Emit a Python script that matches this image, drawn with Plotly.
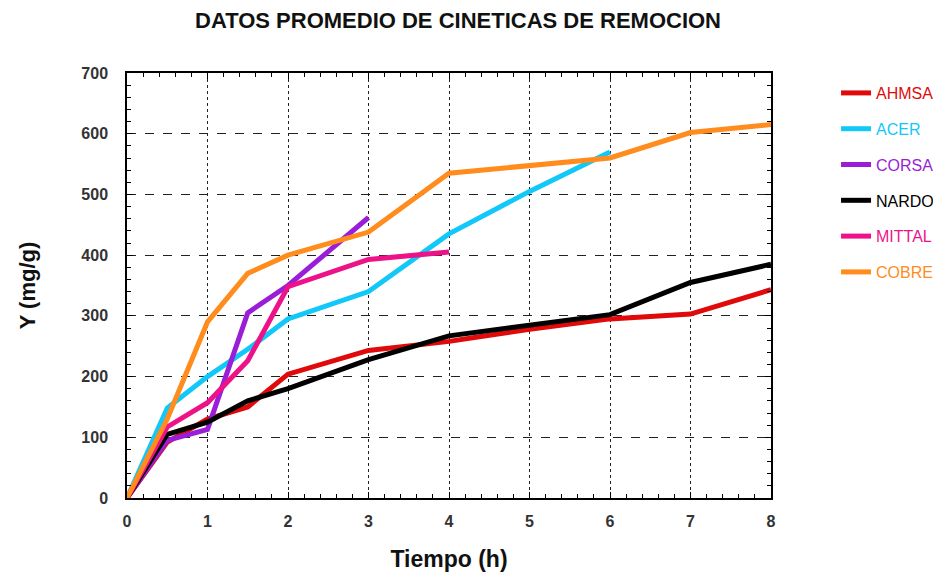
import plotly.graph_objects as go

# tiempo (h) y capacidad Y (mg/g) por muestra
t_largo = [0, 0.5, 1, 1.5, 2, 3, 4, 5, 6, 7, 8]
t_acer = [0, 0.5, 1, 1.5, 2, 3, 4, 5, 6]
t_corsa = [0, 0.5, 1, 1.5, 2, 3]
t_mittal = [0, 0.5, 1, 1.5, 2, 3, 4]

ahmsa = [0, 92, 130, 150, 204, 243, 258, 278, 295, 303, 343]
acer = [0, 148, 200, 245, 295, 340, 435, 505, 570]
corsa = [0, 95, 113, 305, 350, 462]
nardo = [0, 105, 125, 160, 180, 228, 267, 285, 302, 355, 385]
mittal = [0, 117, 157, 226, 348, 393, 405]
cobre = [0, 130, 290, 370, 400, 438, 535, 548, 560, 602, 615]

series = [
    ("AHMSA", t_largo, ahmsa, "#e00a0a"),
    ("ACER", t_acer, acer, "#12c8f8"),
    ("CORSA", t_corsa, corsa, "#9a1ed8"),
    ("NARDO", t_largo, nardo, "#000000"),
    ("MITTAL", t_mittal, mittal, "#ee1289"),
    ("COBRE", t_largo, cobre, "#ff8c1c"),
]

fig = go.Figure()
for i, (name, x, y, color) in enumerate(series):
    fig.add_trace(go.Scatter(
        x=x, y=y, mode="lines",
        name="<span style='color:%s'>%s</span>" % (color, name),
        legendgroup=str(i),
        line=dict(color=color, width=5),
    ))

fam = "Liberation Sans, Arial"
axis_font = dict(family=fam, size=16, color="#333333", weight="bold")
title_font = dict(family=fam, size=23, color="#111111", weight="bold")

# la pagina deja 8px de margen en body, por eso 933x570
fig.update_layout(
    width=933, height=570,
    paper_bgcolor="white", plot_bgcolor="white",
    margin=dict(l=119, r=170, t=65, b=80),
    title=dict(text="DATOS PROMEDIO DE CINETICAS DE REMOCION",
               xref="paper", x=0.514, xanchor="center", y=0.978, yanchor="middle",
               font=dict(family=fam, size=22, color="#111111", weight="bold")),
    font=dict(family=fam),
    legend=dict(xref="container", yref="container",
                x=0.8875, xanchor="left", y=0.8807, yanchor="top",
                font=dict(family=fam, size=16),
                tracegroupgap=12, bgcolor="rgba(0,0,0,0)"),
    showlegend=True,
)

fig.update_xaxes(
    range=[0, 8], dtick=1, tick0=0,
    showline=True, linecolor="black", linewidth=1.5, mirror="ticks",
    ticks="inside", ticklen=6, tickcolor="black",
    minor=dict(dtick=0.2, ticks="inside", ticklen=4, tickcolor="black", showgrid=False),
    showgrid=True, gridcolor="#222222", griddash="dot", gridwidth=1,
    zeroline=False, automargin=False, ticklabelstandoff=8,
    tickfont=axis_font,
    title=dict(text="Tiempo (h)", standoff=22, font=title_font),
)
fig.update_yaxes(
    range=[0, 700], dtick=100, tick0=0,
    showline=True, linecolor="black", linewidth=1.5, mirror="ticks",
    ticks="inside", ticklen=6, tickcolor="black",
    minor=dict(dtick=20, ticks="inside", ticklen=4, tickcolor="black", showgrid=False),
    showgrid=True, gridcolor="#222222", griddash="dash", gridwidth=1,
    zeroline=False, automargin=False, ticklabelstandoff=14,
    tickfont=axis_font,
    title=dict(text="Y (mg/g)", standoff=40, font=dict(family=fam, size=22, color="#111111", weight="bold")),
)

fig.write_html("out.html", config={"displayModeBar": False})
